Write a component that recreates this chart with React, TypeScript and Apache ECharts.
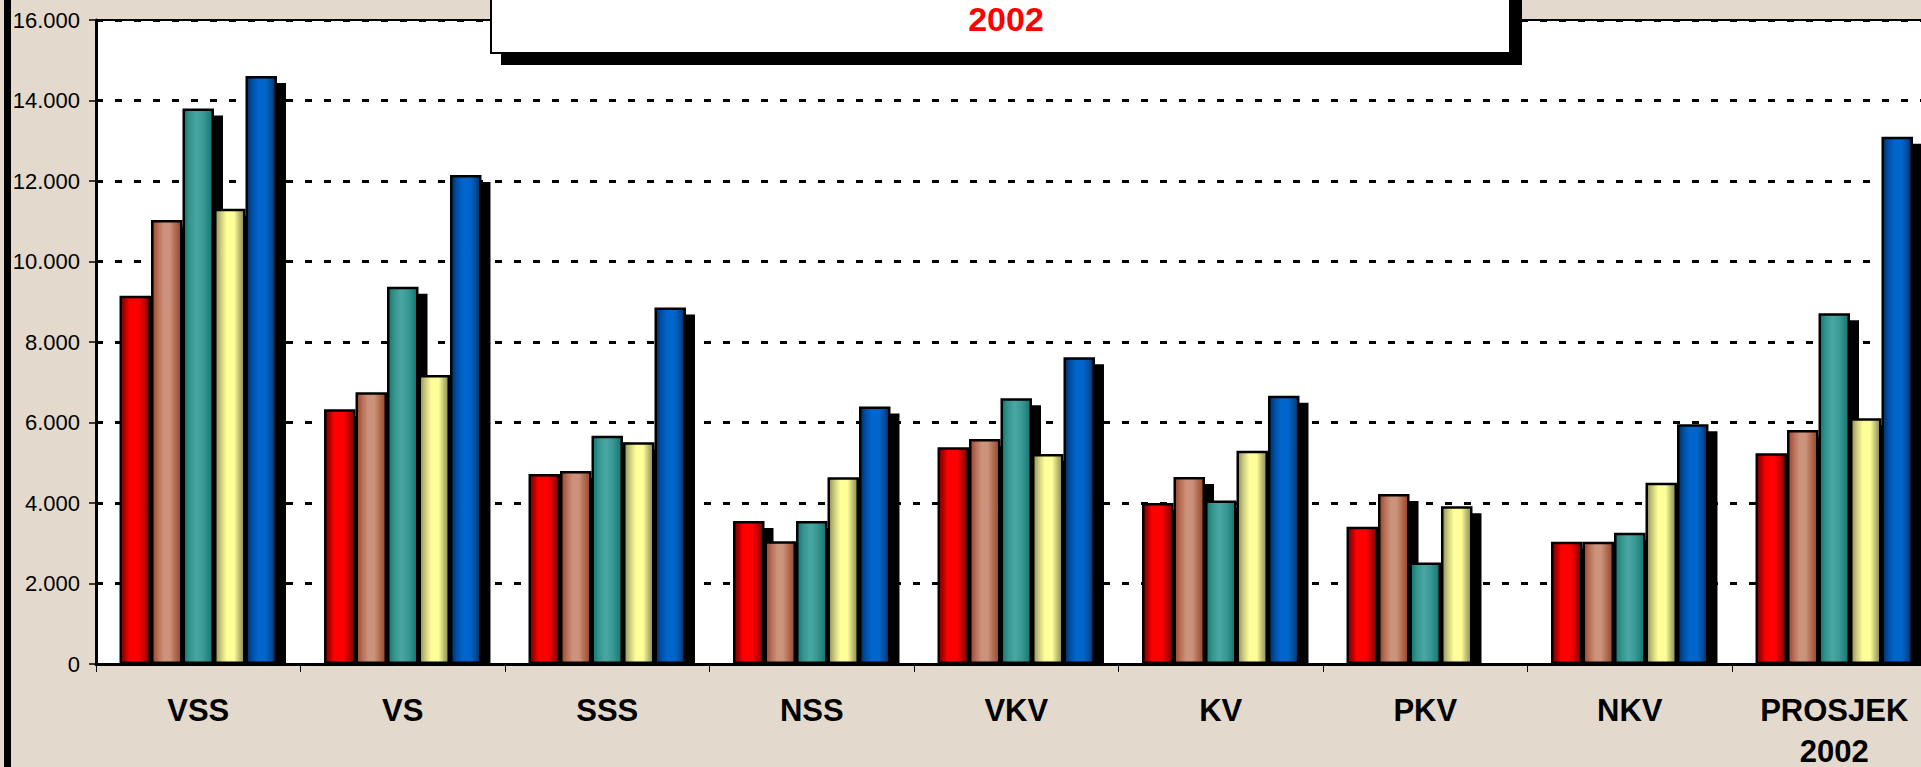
import React, { useEffect, useRef } from "react";
import * as echarts from "echarts";

const categories = ["VSS", "VS", "SSS", "NSS", "VKV", "KV", "PKV", "NKV", "PROSJEK\n2002"];
const seriesNames = ["Serija 1", "Serija 2", "Serija 3", "Serija 4", "Serija 5"];
const series1 = [9150, 6330, 4720, 3550, 5385, 4000, 3410, 3040, 5235];
const series2 = [11030, 6750, 4795, 3050, 5590, 4645, 4225, 3040, 5815];
const series3 = [13800, 9375, 5670, 3555, 6600, 4065, 2520, 3260, 8715];
const series4 = [11310, 7180, 5510, 4640, 5215, 5300, 3920, 4505, 6105];
const series5 = [14610, 12150, 8860, 6395, 7620, 6665, null, 5955, 13100];
const titleText = "2002";
const yMin = 0;
const yMax = 16000;
const yStep = 2000;

const FONT = "'Liberation Sans', Arial, Helvetica, sans-serif";
const BG = "#E3D9CC";

const grad = (stops: [number, string][]) =>
  new echarts.graphic.LinearGradient(
    0, 0, 1, 0,
    stops.map(([offset, color]) => ({ offset, color }))
  );

const fills = [
  grad([[0, "#7A0000"], [0.15, "#B00000"], [0.3, "#FF0000"], [0.62, "#FF0000"], [0.82, "#C00000"], [1, "#7A0000"]]),
  grad([[0, "#9A4526"], [0.2, "#B8705A"], [0.4, "#CC937B"], [0.6, "#CC937B"], [0.8, "#B06A50"], [1, "#9A4526"]]),
  grad([[0, "#15736E"], [0.22, "#35978F"], [0.45, "#4AA6A2"], [0.68, "#3A9995"], [1, "#127470"]]),
  grad([[0, "#8F8F55"], [0.2, "#CCCC80"], [0.4, "#FFFF99"], [0.65, "#FFFF99"], [0.85, "#B8B870"], [1, "#8A8A52"]]),
  grad([[0, "#002F60"], [0.2, "#0050A8"], [0.4, "#0066CC"], [0.65, "#0066CC"], [0.85, "#004C99"], [1, "#002D5C"]]),
];

const seriesData = [series1, series2, series3, series4, series5];

export default function App() {
  const ref = useRef<HTMLDivElement | null>(null);

  useEffect(() => {
    if (!ref.current) return;
    const chart = echarts.init(ref.current, undefined, { renderer: "svg" });
    const labelFont = { color: "#000", fontFamily: FONT, fontWeight: "bold", fontSize: 31 };
    chart.setOption({
      animation: false,
      backgroundColor: BG,
      grid: {
        left: 96,
        top: 20,
        width: 1840.5,
        height: 644,
        show: true,
        backgroundColor: "#FFFFFF",
        borderColor: "#000000",
        borderWidth: 2,
        containLabel: false,
        outerBoundsMode: "none",
      },
      xAxis: {
        type: "category",
        data: categories,
        z: 60,
        axisLine: { show: true, lineStyle: { color: "#000", width: 3 } },
        axisTick: { show: true, length: 8, lineStyle: { color: "#000", width: 1 } },
        axisLabel: {
          interval: 0,
          margin: 21.5,
          hideOverlap: false,
          formatter: (v: string) =>
            v
              .split("\n")
              .map((s, i) => (i === 0 ? `{a|${s}}` : `{b|${s}}`))
              .join("\n"),
          rich: {
            a: { ...labelFont, lineHeight: 50 },
            b: { ...labelFont, lineHeight: 31 },
          },
        },
        splitLine: { show: false },
      },
      yAxis: {
        type: "value",
        min: yMin,
        max: yMax,
        interval: yStep,
        z: 0,
        axisLine: { show: true, lineStyle: { color: "#000", width: 3 } },
        axisTick: { show: true, length: 7, lineStyle: { color: "#000", width: 1.5 } },
        axisLabel: {
          margin: 16,
          color: "#000",
          fontFamily: FONT,
          fontSize: 22,
          formatter: (v: number) => (v === 0 ? "0" : (v / 1000).toFixed(3)),
        },
        splitLine: {
          show: true,
          lineStyle: { color: "#000", width: 3, type: [7, 12] },
        },
      },
      series: seriesData.map((data, i) => ({
        name: seriesNames[i],
        type: "bar",
        data,
        barGap: "0%",
        barCategoryGap: "23%",
        z: 2,
        itemStyle: {
          color: fills[i],
          borderColor: "#000",
          borderWidth: 2.5,
          shadowColor: "#000",
          shadowBlur: 0,
          shadowOffsetX: 9,
          shadowOffsetY: 7,
        },
      })),
      graphic: [
        {
          type: "rect",
          z: 50,
          silent: true,
          shape: { x: 96, y: 665.5, width: 1900, height: 120 },
          style: { fill: BG },
        },
        {
          type: "rect",
          z: 100,
          silent: true,
          shape: { x: 4, y: 0, width: 7, height: 767 },
          style: { fill: "#000" },
        },
        {
          type: "rect",
          z: 100,
          silent: true,
          shape: { x: 491, y: -60, width: 1019, height: 113 },
          style: {
            fill: "#FFFFFF",
            stroke: "#000",
            lineWidth: 2,
            shadowColor: "#000",
            shadowBlur: 0,
            shadowOffsetX: 11,
            shadowOffsetY: 11,
          },
        },
        {
          type: "text",
          z: 101,
          silent: true,
          x: 1006,
          y: 19,
          style: {
            text: titleText,
            fill: "#FF0000",
            font: `bold 34px ${FONT}`,
            lineHeight: 32,
            align: "center",
            verticalAlign: "middle",
          },
        },
      ],
    });
    return () => chart.dispose();
  }, []);

  return (
    <div
      ref={ref}
      style={{ position: "fixed", left: 0, top: 0, width: 1921, height: 767 }}
    />
  );
}
